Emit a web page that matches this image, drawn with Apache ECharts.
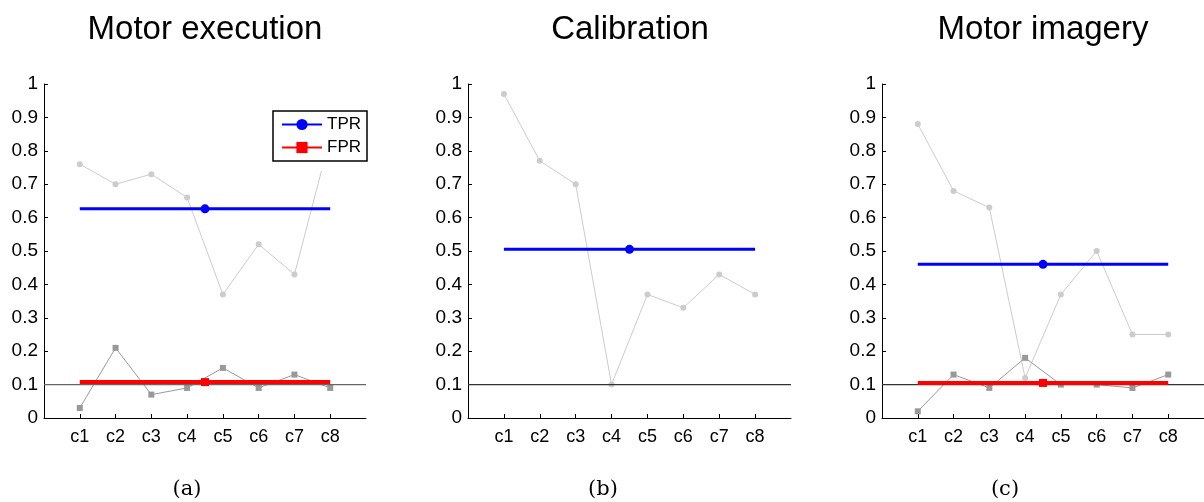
<!DOCTYPE html>
<html>
<head>
<meta charset="utf-8">
<script src="https://cdn.jsdelivr.net/npm/echarts@6/dist/echarts.min.js"></script>
<style>html,body{margin:0;padding:0;background:#fff}#c{width:1204px;height:502px}</style>
</head>
<body>
<div id="c"></div>
<script>
const categories = ['c1','c2','c3','c4','c5','c6','c7','c8'];
const panelTitles = ['Motor execution','Calibration','Motor imagery'];
const captions = ['(a)','(b)','(c)'];
const threshold = 0.1;

// per-class true positive rate
const tprExec  = [0.76,0.70,0.73,0.66,0.37,0.52,0.43,0.84];
const tprCalib = [0.97,0.77,0.70,0.10,0.37,0.33,0.43,0.37];
const tprImag  = [0.88,0.68,0.63,0.12,0.37,0.50,0.25,0.25];
// per-class false positive rate
const fprExec  = [0.03,0.21,0.07,0.09,0.15,0.09,0.13,0.09];
const fprImag  = [0.02,0.13,0.09,0.18,0.10,0.10,0.09,0.13];

const panels = [
  {tpr: tprExec, fpr: fprExec},
  {tpr: tprCalib, fpr: null},
  {tpr: tprImag, fpr: fprImag}
];

const mean = a => a.reduce((s,v)=>s+v,0)/a.length;
const n = categories.length;
const xs = categories.map((c,i)=>i+1);
const mid = (1+n)/2;

const grids = [
  {left:44, width:322, top:84, height:334},
  {left:468, width:323, top:84, height:334},
  {left:882, width:322, top:84, height:334}
];

const font = 'Liberation Sans, Arial, Helvetica, sans-serif';
const xAxes = [], yAxes = [], series = [], titles = [];

panels.forEach((p, gi) => {
  xAxes.push({
    gridIndex: gi, type:'value', min:0, max:n+1, interval:1,
    axisLine:{show:true, lineStyle:{color:'#000', width:1}},
    axisTick:{show:true, inside:true, length:4, customValues: xs, lineStyle:{color:'#000'}},
    axisLabel:{customValues: xs, formatter: v => categories[v-1] || '', color:'#000', fontSize:18, fontFamily:font, margin:10},
    splitLine:{show:false}
  });
  yAxes.push({
    gridIndex: gi, type:'value', min:0, max:1, interval:0.1,
    axisLine:{show:true, lineStyle:{color:'#000', width:1}},
    axisTick:{show:true, inside:true, length:4, lineStyle:{color:'#000'}},
    axisLabel:{color:'#000', fontSize:19, fontFamily:font, margin:6},
    splitLine:{show:false}
  });
  series.push({
    type:'line', xAxisIndex:gi, yAxisIndex:gi, name:'tpr-class'+gi,
    data: p.tpr.map((v,i)=>[xs[i],v]),
    symbol:'circle', symbolSize:6, showSymbol:true,
    lineStyle:{color:'#cccccc', width:1}, itemStyle:{color:'#cccccc'},
    silent:true, z:2, animation:false
  });
  if (p.fpr) {
    series.push({
      type:'line', xAxisIndex:gi, yAxisIndex:gi, name:'fpr-class'+gi,
      data: p.fpr.map((v,i)=>[xs[i],v]),
      symbol:'rect', symbolSize:6,
      lineStyle:{color:'#999999', width:1}, itemStyle:{color:'#999999'},
      silent:true, z:2, animation:false
    });
  }
  // threshold reference line
  series.push({
    type:'line', xAxisIndex:gi, yAxisIndex:gi, name:'thr'+gi,
    data: [[0,threshold],[n+1,threshold]], symbol:'none',
    lineStyle:{color: gi===0 ? '#666666' : '#333333', width:1.3},
    silent:true, z:3, animation:false
  });
  const mt = mean(p.tpr);
  series.push({
    type:'line', xAxisIndex:gi, yAxisIndex:gi, name:'TPR',
    data: [{value:[1,mt], symbol:'none'},{value:[mid,mt]},{value:[n,mt], symbol:'none'}],
    symbol:'circle', symbolSize:9,
    lineStyle:{color:'#0000ff', width:3}, itemStyle:{color:'#0000ff'},
    z:5, animation:false
  });
  if (p.fpr) {
    const mf = mean(p.fpr);
    series.push({
      type:'line', xAxisIndex:gi, yAxisIndex:gi, name:'FPR',
      data: [{value:[1,mf], symbol:'none'},{value:[mid,mf]},{value:[n,mf], symbol:'none'}],
      symbol:'rect', symbolSize:8,
      lineStyle:{color:'#ff0000', width:4}, itemStyle:{color:'#ff0000'},
      z:5, animation:false
    });
  }
  titles.push({text: panelTitles[gi], left: [200, 625, 1038][gi], top: 8, textAlign:'center',
    textStyle:{fontSize:33, fontWeight:'normal', color:'#000', fontFamily:font}});
  titles.push({text: captions[gi], left: [182, 598, 1000][gi], top: 474, textAlign:'center',
    textStyle:{fontSize:21, fontWeight:'normal', color:'#000', fontFamily:'DejaVu Serif, Liberation Serif, serif'}});
});

const chart = echarts.init(document.getElementById('c'), null, {renderer:'canvas'});
chart.setOption({
  animation:false,
  backgroundColor:'#fff',
  title: titles,
  grid: grids,
  xAxis: xAxes,
  yAxis: yAxes,
  // legend's opaque area (MATLAB legend box extends below its border)
  graphic: [{type:'rect', left:273, top:111, z:3, silent:true,
    shape:{width:93, height:60}, style:{fill:'#fff'}}],
  legend: {
    data:['TPR','FPR'], orient:'vertical', left:273, top:111, z:10,
    backgroundColor:'#fff', borderColor:'#000', borderWidth:1.5, borderRadius:0,
    padding:[5,6,5,8], itemGap:6, itemWidth:40, itemHeight:14,
    textStyle:{fontSize:17, color:'#000', fontFamily:font}
  },
  series: series
});
</script>
</body>
</html>
